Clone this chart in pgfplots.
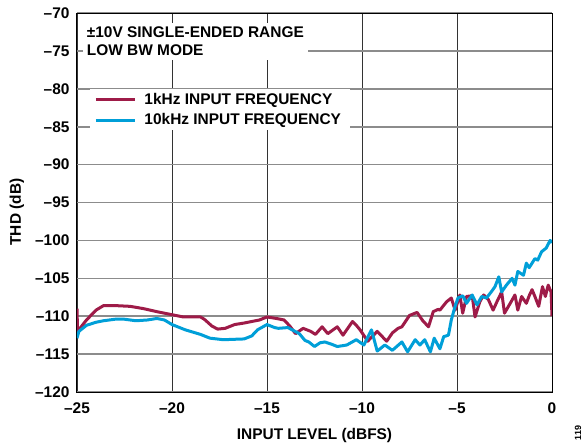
\documentclass[border=0pt]{standalone}
\usepackage{pgfplots}
\pgfplotsset{compat=1.18}
\usepackage{fontspec}
\setmainfont{Liberation Sans}
\definecolor{cred}{RGB}{158,27,72}
\definecolor{cblue}{RGB}{0,159,216}
\newcommand{\tf}{\bfseries\fontsize{15.5}{18.6}\selectfont}
\begin{document}
\begin{tikzpicture}
\useasboundingbox (-77bp,-54bp) rectangle (506bp,392bp);
\begin{axis}[
  at={(0,0)}, anchor=south west,
  scale only axis, width=475bp, height=379bp,
  xmin=-25, xmax=0, ymin=-120, ymax=-70,
  xtick={-25,-20,-15,-10,-5,0},
  xticklabels={–25,–20,–15,–10,–5,0},
  ytick={-120,-115,-110,-105,-100,-95,-90,-85,-80,-75,-70},
  yticklabels={–120,–115,–110,–105,–100,–95,–90,–85,–80,–75,–70},
  major tick length=0pt,
  grid=major,
  major x grid style={black!80, line width=0.8bp},
  major y grid style={black!45, line width=1.6bp},
  axis line style={black, line width=1bp},
  tick label style={font=\tf},
  xticklabel style={yshift=-7bp},
  yticklabel style={xshift=-4bp},
  legend cell align=left,
  legend image code/.code={\draw[#1, line width=3bp] (0bp,0bp) -- (39bp,0bp);},
  legend style={at={(rel axis cs:0.028,0.80)}, anchor=north west, draw=none, fill=white,
     font=\tf, inner xsep=4bp, inner ysep=2bp, row sep=4bp, column sep=3bp,
     nodes={inner xsep=5bp}},
]
\addplot[cred, line width=3bp, line join=round] coordinates {
(-25,-109.0) (-24.97,-112.0) (-24.5,-110.5) (-24,-109.2) (-23.6,-108.6) (-23,-108.6)
(-22.2,-108.7) (-21.5,-109.0) (-20.8,-109.4) (-20,-109.8) (-19.4,-110.1) (-18.5,-110.1)
(-18.3,-110.4) (-17.9,-111.3) (-17.6,-111.7) (-17.2,-111.6) (-16.7,-111.1) (-16.2,-110.9)
(-15.8,-110.7) (-15.4,-110.5) (-15,-110.1) (-14.5,-110.3) (-14.1,-110.5) (-13.8,-111.3)
(-13.5,-112.3) (-13.1,-111.6) (-12.7,-112.0) (-12.45,-112.4) (-12.1,-111.4) (-11.8,-112.3)
(-11.3,-111.4) (-11.0,-112.5) (-10.5,-110.7) (-10.3,-111.2) (-10.1,-111.8) (-9.7,-113.3)
(-9.2,-112.0) (-8.7,-113.3) (-8.4,-112.2) (-8.1,-111.6) (-7.9,-111.4) (-7.5,-109.9)
(-7.1,-109.5) (-6.8,-110.6) (-6.5,-111.4) (-6.25,-109.4) (-6.0,-109.1) (-5.9,-109.2)
(-5.55,-108.1) (-5.3,-107.6) (-5.1,-109.2) (-4.85,-107.2) (-4.7,-109.6) (-4.5,-107.4)
(-4.2,-107.3) (-4.05,-110.1) (-3.8,-108.1) (-3.6,-107.2) (-3.35,-107.8) (-3.1,-109.2)
(-2.9,-108.1) (-2.65,-106.8) (-2.5,-109.6) (-2.2,-108.3) (-1.95,-107.2) (-1.8,-109.2)
(-1.6,-107.4) (-1.35,-108.3) (-1.2,-107.3) (-1.05,-106.5) (-0.9,-107.4) (-0.7,-108.7)
(-0.5,-106.1) (-0.35,-107.4) (-0.2,-105.9) (-0.05,-106.8) (0,-110)
};
\addlegendentry{1kHz INPUT FREQUENCY}
\addplot[cblue, line width=3bp, line join=round] coordinates {
(-25,-112.9) (-24.9,-112.0) (-24.5,-111.2) (-24,-110.8) (-23.6,-110.6) (-23,-110.4)
(-22.5,-110.4) (-21.9,-110.6) (-21.3,-110.5) (-20.8,-110.3) (-20.4,-110.5) (-20,-111.1)
(-19.3,-111.8) (-18.5,-112.4) (-18,-112.9) (-17.3,-113.1) (-16.2,-113.0) (-15.8,-112.6)
(-15.5,-111.8) (-15,-111.1) (-14.6,-111.5) (-14.4,-111.6) (-13.9,-111.5) (-13.6,-111.9)
(-13.3,-112.3) (-13.0,-113.2) (-12.8,-113.4) (-12.5,-114.0) (-12.2,-113.5) (-11.95,-113.4)
(-11.6,-113.7) (-11.3,-114.0) (-10.8,-113.8) (-10.3,-113.1) (-9.9,-113.8) (-9.5,-111.8)
(-9.2,-114.6) (-8.8,-113.8) (-8.4,-114.5) (-7.9,-113.4) (-7.6,-114.7) (-7.2,-113.1)
(-6.95,-113.8) (-6.7,-113.1) (-6.4,-114.7) (-6.2,-112.9) (-5.9,-114.3) (-5.7,-112.7)
(-5.45,-112.5) (-5.3,-110.5) (-5.1,-108.7) (-4.95,-107.6) (-4.7,-107.3) (-4.5,-108.3)
(-4.2,-107.2) (-3.95,-108.5) (-3.7,-107.4) (-3.45,-107.6) (-3.2,-106.8) (-3.0,-106.1)
(-2.8,-104.8) (-2.65,-106.8) (-2.4,-105.9) (-2.1,-105.0) (-1.95,-105.9) (-1.8,-104.1)
(-1.5,-104.6) (-1.35,-103.0) (-1.2,-103.6) (-0.9,-102.4) (-0.75,-102.6) (-0.55,-101.5)
(-0.3,-101.0) (-0.1,-100.0) (0,-100.3)
};
\addlegendentry{10kHz INPUT FREQUENCY}
\node[anchor=north west, fill=white, align=left, font=\tf, inner sep=4bp]
  at (rel axis cs:0.012,0.975) {±10V SINGLE-ENDED RANGE\\LOW BW MODE};
\end{axis}
\node[font=\tf] at (237.5bp,-44bp) {INPUT LEVEL (dBFS)};
\node[font=\tf, rotate=90] at (-60bp,180bp) {THD (dB)};
\node[font=\bfseries\fontsize{9}{10}\selectfont, rotate=90] at (501bp,-41bp) {119};
\end{tikzpicture}
\end{document}
